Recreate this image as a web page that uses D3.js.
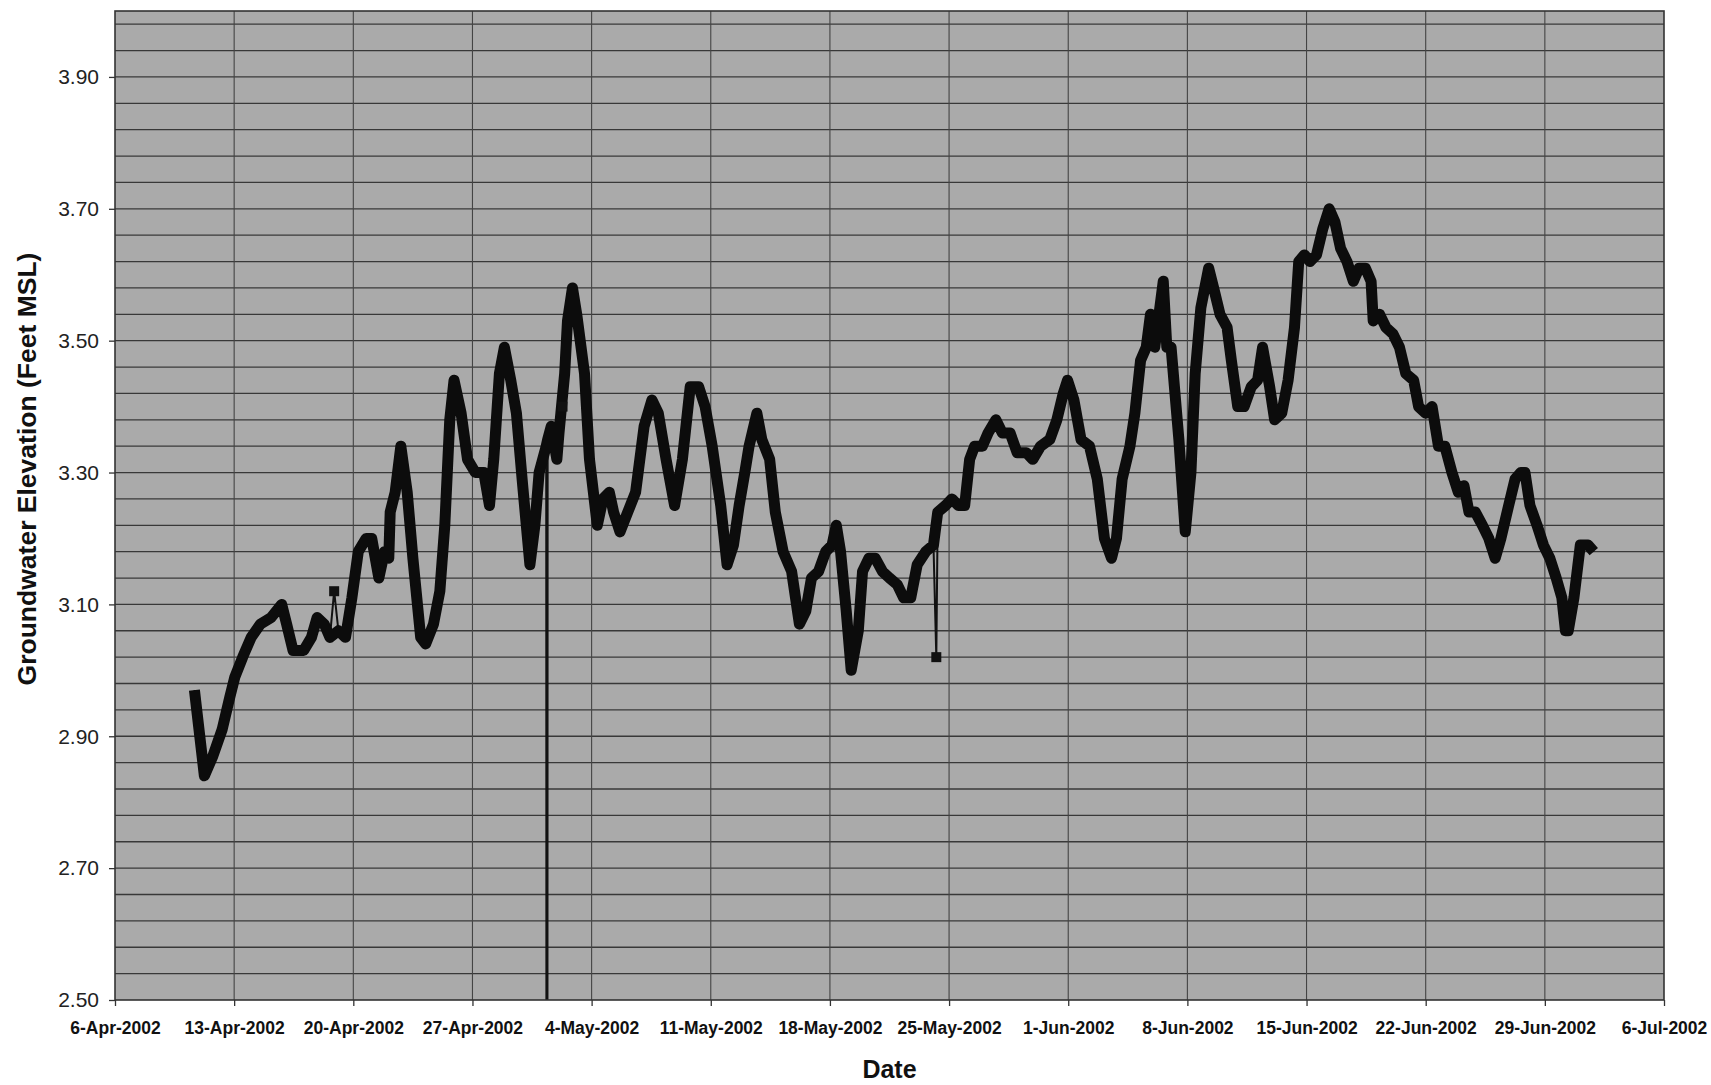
<!DOCTYPE html>
<html>
<head>
<meta charset="utf-8">
<script src="https://cdn.jsdelivr.net/npm/d3@7"></script>
<style>
  html, body { margin: 0; padding: 0; background: #fff; }
  svg { display: block; font-family: "Liberation Sans", Arial, sans-serif; }
</style>
</head>
<body>
<div id="chart"></div>
<script>
// Groundwater level readings, 2002 (month-day hour)
const times = [
  "04-10 16", "04-11 06", "04-11 18", "04-12 07", "04-12 18", "04-13 01", "04-13 12", "04-14 00",
  "04-14 13", "04-15 04", "04-15 19", "04-16 02", "04-16 11", "04-17 02", "04-17 13", "04-17 21",
  "04-18 07", "04-18 15", "04-19 03", "04-19 13", "04-19 22", "04-20 07", "04-20 18", "04-21 02",
  "04-21 12", "04-21 20", "04-22 02", "04-22 04", "04-22 11", "04-22 19", "04-23 04", "04-23 12",
  "04-23 23", "04-24 06", "04-24 17", "04-25 02", "04-25 09", "04-25 16", "04-25 22", "04-26 08",
  "04-26 17", "04-27 04", "04-27 16", "04-28 00", "04-28 06", "04-28 14", "04-28 21", "04-29 06",
  "04-29 14", "04-29 22", "04-30 09", "04-30 16", "04-30 22", "05-01 08", "05-01 10", "05-01 15",
  "05-01 23", "05-02 02", "05-02 10", "05-02 14", "05-02 21", "05-03 03", "05-03 14", "05-03 21",
  "05-04 08", "05-04 16", "05-05 01", "05-05 07", "05-05 16", "05-06 03", "05-06 14", "05-07 02",
  "05-07 13", "05-07 22", "05-08 09", "05-08 21", "05-09 08", "05-09 19", "05-10 07", "05-10 16",
  "05-11 02", "05-11 14", "05-11 23", "05-12 08", "05-12 16", "05-13 00", "05-13 06", "05-13 17",
  "05-14 00", "05-14 11", "05-14 19", "05-15 06", "05-15 18", "05-16 05", "05-16 14", "05-16 22",
  "05-17 08", "05-17 18", "05-18 03", "05-18 09", "05-18 15", "05-18 23", "05-19 06", "05-19 16",
  "05-19 22", "05-20 07", "05-20 16", "05-21 02", "05-21 12", "05-21 23", "05-22 08", "05-22 18",
  "05-23 03", "05-23 15", "05-24 02", "05-24 08", "05-24 19", "05-25 04", "05-25 13", "05-25 22",
  "05-26 05", "05-26 12", "05-26 23", "05-27 07", "05-27 18", "05-28 03", "05-28 14", "05-29 00",
  "05-29 13", "05-29 22", "05-30 09", "05-30 22", "05-31 08", "05-31 17", "05-31 23", "06-01 08",
  "06-01 18", "06-02 06", "06-02 17", "06-03 03", "06-03 13", "06-03 20", "06-04 04", "06-04 15",
  "06-04 22", "06-05 06", "06-05 14", "06-05 20", "06-06 02", "06-06 08", "06-06 14", "06-06 19",
  "06-07 01", "06-07 12", "06-07 21", "06-08 05", "06-08 11", "06-08 19", "06-09 06", "06-09 13",
  "06-09 22", "06-10 08", "06-10 14", "06-10 23", "06-11 08", "06-11 18", "06-12 03", "06-12 10",
  "06-12 20", "06-13 03", "06-13 13", "06-13 22", "06-14 07", "06-14 13", "06-14 21", "06-15 05",
  "06-15 14", "06-15 23", "06-16 08", "06-16 16", "06-17 00", "06-17 09", "06-17 18", "06-18 02",
  "06-18 11", "06-18 19", "06-18 22", "06-19 07", "06-19 16", "06-20 02", "06-20 11", "06-20 20",
  "06-21 07", "06-21 14", "06-22 00", "06-22 09", "06-22 18", "06-23 03", "06-23 13", "06-23 22",
  "06-24 06", "06-24 13", "06-24 22", "06-25 08", "06-25 17", "06-26 02", "06-26 10", "06-26 21",
  "06-27 06", "06-27 14", "06-27 20", "06-28 03", "06-28 13", "06-28 22", "06-29 07", "06-29 16",
  "06-30 00", "06-30 05", "06-30 09", "06-30 17", "07-01 02", "07-01 13", "07-01 21"
];
const levels = [
  2.97, 2.84, 2.87, 2.91, 2.96, 2.99, 3.02, 3.05,
  3.07, 3.08, 3.10, 3.07, 3.03, 3.03, 3.05, 3.08,
  3.07, 3.05, 3.06, 3.05, 3.11, 3.18, 3.20, 3.20,
  3.14, 3.18, 3.17, 3.24, 3.27, 3.34, 3.27, 3.17,
  3.05, 3.04, 3.07, 3.12, 3.22, 3.38, 3.44, 3.39,
  3.32, 3.30, 3.30, 3.25, 3.32, 3.45, 3.49, 3.44,
  3.39, 3.29, 3.16, 3.22, 3.30, 3.34, 3.35, 3.37,
  3.32, 3.36, 3.45, 3.53, 3.58, 3.54, 3.45, 3.32,
  3.22, 3.26, 3.27, 3.24, 3.21, 3.24, 3.27, 3.37,
  3.41, 3.39, 3.32, 3.25, 3.32, 3.43, 3.43, 3.40,
  3.34, 3.25, 3.16, 3.19, 3.25, 3.30, 3.34, 3.39,
  3.35, 3.32, 3.24, 3.18, 3.15, 3.07, 3.09, 3.14,
  3.15, 3.18, 3.19, 3.22, 3.18, 3.09, 3.00, 3.06,
  3.15, 3.17, 3.17, 3.15, 3.14, 3.13, 3.11, 3.11,
  3.16, 3.18, 3.19, 3.24, 3.25, 3.26, 3.25, 3.25,
  3.32, 3.34, 3.34, 3.36, 3.38, 3.36, 3.36, 3.33,
  3.33, 3.32, 3.34, 3.35, 3.38, 3.42, 3.44, 3.41,
  3.35, 3.34, 3.29, 3.20, 3.17, 3.20, 3.29, 3.34,
  3.39, 3.47, 3.49, 3.54, 3.49, 3.54, 3.59, 3.49,
  3.49, 3.35, 3.21, 3.30, 3.45, 3.55, 3.61, 3.58,
  3.54, 3.52, 3.47, 3.40, 3.40, 3.43, 3.44, 3.49,
  3.43, 3.38, 3.39, 3.44, 3.52, 3.62, 3.63, 3.62,
  3.63, 3.67, 3.70, 3.68, 3.64, 3.62, 3.59, 3.61,
  3.61, 3.59, 3.53, 3.54, 3.52, 3.51, 3.49, 3.45,
  3.44, 3.40, 3.39, 3.40, 3.34, 3.34, 3.30, 3.27,
  3.28, 3.24, 3.24, 3.22, 3.20, 3.17, 3.20, 3.25,
  3.29, 3.30, 3.30, 3.25, 3.22, 3.19, 3.17, 3.14,
  3.11, 3.06, 3.06, 3.11, 3.19, 3.19, 3.18
];

// single readings that jump away from the trace (shown as thin spikes)
const spikeTimes = ["04-18 21", "05-01 09", "05-02 07", "05-24 06"];
const spikeLevels = [3.12, 0.00, 3.40, 3.02];

const xTickDates = [
  "2002-04-06", "2002-04-13", "2002-04-20", "2002-04-27", "2002-05-04", "2002-05-11", "2002-05-18",
  "2002-05-25", "2002-06-01", "2002-06-08", "2002-06-15", "2002-06-22", "2002-06-29", "2002-07-06"
];
const yTicks = [2.50, 2.70, 2.90, 3.10, 3.30, 3.50, 3.70, 3.90];

const width = 1711;
const height = 1085;
const margin = { top: 11, right: 47, bottom: 85, left: 115 };
const plotW = width - margin.left - margin.right;
const plotH = height - margin.top - margin.bottom;

const parseTime = d3.timeParse("%Y-%m-%d %H");
const parseDay = d3.timeParse("%Y-%m-%d");

const main = times.map((t, i) => ({ date: parseTime("2002-" + t), value: levels[i] }));
const spikes = spikeTimes.map((t, i) => ({ date: parseTime("2002-" + t), value: spikeLevels[i] }));
const all = main.concat(spikes).sort((a, b) => a.date - b.date);
const xTicks = xTickDates.map(parseDay);

const x = d3.scaleTime()
  .domain([xTicks[0], xTicks[xTicks.length - 1]])
  .range([0, plotW]);

const y = d3.scaleLinear()
  .domain([2.5, 4.0])
  .range([plotH, 0]);

const svg = d3.select("#chart")
  .append("svg")
  .attr("width", width)
  .attr("height", height);

const g = svg.append("g")
  .attr("transform", `translate(${margin.left},${margin.top})`);

g.append("defs").append("clipPath")
  .attr("id", "plot-clip")
  .append("rect")
  .attr("width", plotW)
  .attr("height", plotH);

// plot area
g.append("rect")
  .attr("width", plotW)
  .attr("height", plotH)
  .attr("fill", "#aaaaaa");

// horizontal gridlines every 0.04
const minorY = d3.range(1, 38).map(i => 2.5 + i * 0.04);
g.append("g")
  .selectAll("line")
  .data(minorY)
  .enter().append("line")
  .attr("x1", 0)
  .attr("x2", plotW)
  .attr("y1", d => y(d))
  .attr("y2", d => y(d))
  .attr("stroke", "#383838")
  .attr("stroke-width", 1.3);

// weekly vertical gridlines
g.append("g")
  .selectAll("line")
  .data(xTicks.slice(1, -1))
  .enter().append("line")
  .attr("x1", d => x(d))
  .attr("x2", d => x(d))
  .attr("y1", 0)
  .attr("y2", plotH)
  .attr("stroke", "#444")
  .attr("stroke-width", 1.1);

const line = d3.line()
  .x(d => x(d.date))
  .y(d => y(d.value));

const series = g.append("g").attr("clip-path", "url(#plot-clip)");

// thin connecting line through every reading
series.append("path")
  .datum(all)
  .attr("fill", "none")
  .attr("stroke", "#111")
  .attr("stroke-width", 2)
  .attr("d", line);

// heavy trace of the continuous record
series.append("path")
  .datum(main)
  .attr("fill", "none")
  .attr("stroke", "#0c0c0c")
  .attr("stroke-width", 11)
  .attr("stroke-linejoin", "round")
  .attr("d", line);

// square markers at the isolated readings
series.selectAll(".spike")
  .data(spikes)
  .enter().append("rect")
  .attr("class", "spike")
  .attr("x", d => x(d.date) - 5)
  .attr("y", d => y(d.value) - 5)
  .attr("width", 10)
  .attr("height", 10)
  .attr("fill", "#111");

// plot border
g.append("rect")
  .attr("width", plotW)
  .attr("height", plotH)
  .attr("fill", "none")
  .attr("stroke", "#333")
  .attr("stroke-width", 1.6);

const yAxis = g.append("g")
  .call(d3.axisLeft(y).tickValues(yTicks).tickFormat(d3.format(".2f")).tickSize(6).tickPadding(10));
yAxis.select(".domain").remove();
yAxis.selectAll("line").attr("stroke", "#333").attr("stroke-width", 1.3);
yAxis.selectAll("text")
  .attr("fill", "#222")
  .style("font-size", "21px");

const xAxis = g.append("g")
  .attr("transform", `translate(0,${plotH})`)
  .call(d3.axisBottom(x).tickValues(xTicks).tickFormat(d3.timeFormat("%-d-%b-%Y")).tickSize(6).tickPadding(16));
xAxis.select(".domain").remove();
xAxis.selectAll("line").attr("stroke", "#333").attr("stroke-width", 1.3);
xAxis.selectAll("text")
  .attr("fill", "#111")
  .style("font-size", "17.5px")
  .style("font-weight", "bold");

svg.append("text")
  .attr("x", margin.left + plotW / 2)
  .attr("y", 1078)
  .attr("text-anchor", "middle")
  .attr("fill", "#111")
  .style("font-size", "25px")
  .style("font-weight", "bold")
  .text("Date");

svg.append("text")
  .attr("transform", "translate(36,469) rotate(-90)")
  .attr("text-anchor", "middle")
  .attr("fill", "#111")
  .style("font-size", "26.5px")
  .style("font-weight", "bold")
  .text("Groundwater Elevation (Feet MSL)");
</script>
</body>
</html>
